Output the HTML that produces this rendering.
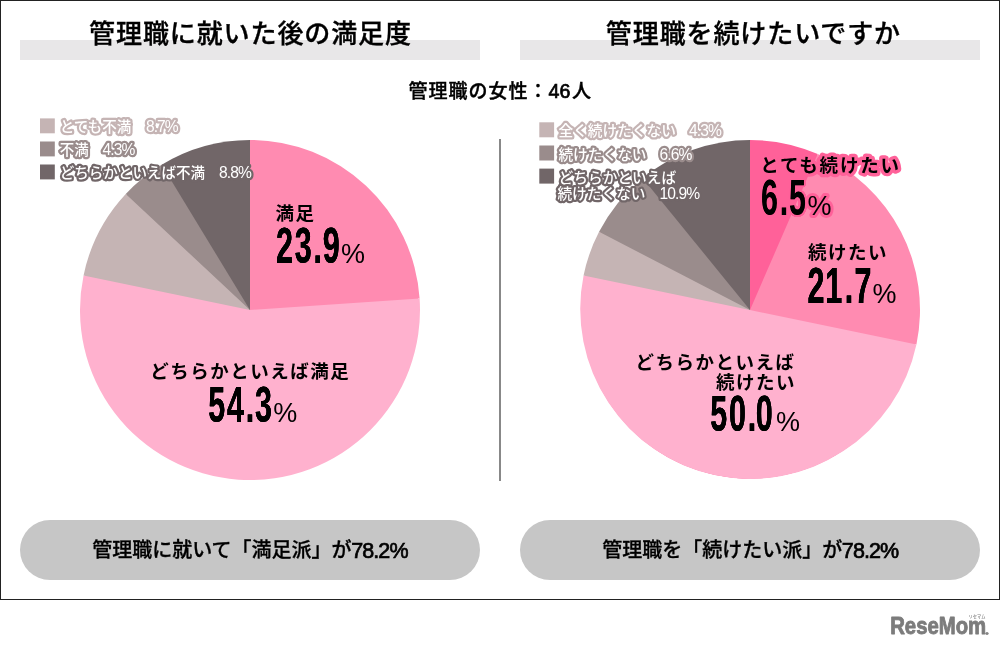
<!DOCTYPE html>
<html lang="ja">
<head>
<meta charset="utf-8">
<title>管理職に就いた後の満足度・管理職を続けたいですか</title>
<style>
html,body{margin:0;padding:0;background:#fff;}
body{width:1001px;height:648px;overflow:hidden;}
svg{display:block;}
text{font-family:"Liberation Sans","Noto Sans CJK JP",sans-serif;fill:#000;}
.title{font-size:26px;font-weight:500;letter-spacing:0.9px;text-anchor:middle;stroke:#000;stroke-width:0.35px;}
.sub{font-size:19px;font-weight:500;letter-spacing:1.0px;text-anchor:middle;stroke:#000;stroke-width:0.4px;}
.sub .d{font-size:19.6px;letter-spacing:0.3px;font-weight:400;stroke-width:0.7px;}
.lg{font-size:14.55px;font-weight:500;fill:#fff;stroke-width:4.5px;stroke-linejoin:round;paint-order:stroke fill;}
.lg tspan{font-weight:400;font-size:15.6px;letter-spacing:-0.9px;}
.lg.r{font-size:14.7px;}
.lg.r tspan{font-size:15.6px;}
.lab{font-size:18.5px;font-weight:700;letter-spacing:1.5px;}
.num{font-family:"Liberation Sans",sans-serif;font-weight:700;font-size:50px;letter-spacing:2.9px;filter:url(#fat);}
.pct{font-size:27px;font-weight:400;}
.pill{font-size:20px;font-weight:500;letter-spacing:0px;text-anchor:middle;stroke:#000;stroke-width:0.3px;}
.pill tspan{font-size:21.5px;letter-spacing:-0.9px;font-weight:400;stroke-width:0.7px;}
</style>
</head>
<body>
<svg width="1001" height="648" viewBox="0 0 1001 648">
<defs>
<filter id="fat" x="-5%" y="-5%" width="110%" height="110%"><feOffset in="SourceGraphic" dx="0.5" result="a"/><feOffset in="SourceGraphic" dx="-0.5" result="b"/><feMerge><feMergeNode in="a"/><feMergeNode in="b"/><feMergeNode in="SourceGraphic"/></feMerge></filter>
<filter id="fatol" x="-15%" y="-25%" width="130%" height="150%">
<feGaussianBlur in="SourceAlpha" stdDeviation="3 1.8" result="bl"/>
<feComponentTransfer in="bl" result="th"><feFuncA type="linear" slope="30" intercept="-1"/></feComponentTransfer>
<feFlood flood-color="#ff6199" result="fl"/>
<feComposite in="fl" in2="th" operator="in" result="ol"/>
<feOffset in="SourceGraphic" dx="0.5" result="a"/><feOffset in="SourceGraphic" dx="-0.5" result="b"/>
<feMerge><feMergeNode in="ol"/><feMergeNode in="a"/><feMergeNode in="b"/><feMergeNode in="SourceGraphic"/></feMerge></filter>
</defs>
<rect x="0" y="0" width="1001" height="648" fill="#fff"/>
<rect x="0.5" y="0.5" width="999" height="599" fill="#fff" stroke="#222" stroke-width="1"/>
<rect x="20" y="40" width="460" height="20" fill="#e8e7e8"/>
<rect x="520" y="40" width="460" height="20" fill="#e8e7e8"/>
<text class="title" x="250.5" y="42.5">管理職に就いた後の満足度</text>
<text class="title" x="753.4" y="42.5">管理職を続けたいですか</text>
<text class="sub" x="500.2" y="98">管理職の女性：<tspan class="d">46</tspan><tspan dx="1.2">人</tspan></text>
<rect x="499" y="139" width="2" height="342" fill="#888"/>

<g id="pie-left">
<path d="M250 310L250.00 140.00A170 170 0 0 1 419.60 298.40L418.11 298.50A168.5 168.5 0 1 1 250 141.5Z" fill="#ff8bb1"/>
<path d="M250 310L419.60 298.40A170 170 0 1 1 83.56 275.41L85.02 275.72A168.5 168.5 0 0 1 250 141.5Z" fill="#ffb1ce"/>
<path d="M250 310L83.56 275.41A170 170 0 0 1 125.76 193.97L126.85 194.99A168.5 168.5 0 0 1 250 141.5Z" fill="#c5b4b4"/>
<path d="M250 310L125.76 193.97A170 170 0 0 1 161.67 164.75L162.45 166.03A168.5 168.5 0 0 1 250 141.5Z" fill="#9a8c8c"/>
<path d="M250 310L161.67 164.75A170 170 0 0 1 250.00 140.00Z" fill="#716668"/>
</g>
<g id="pie-right">
<path d="M750 310L750.00 140.00A170 170 0 0 1 817.73 154.07L817.13 155.45A168.5 168.5 0 1 1 750 141.5Z" fill="#ff6199"/>
<path d="M750 310L817.73 154.07A170 170 0 0 1 916.44 344.59L914.98 344.28A168.5 168.5 0 1 1 750 141.5Z" fill="#ff8bb1"/>
<path d="M750 310L916.44 344.59A170 170 0 0 1 583.56 275.41L585.02 275.72A168.5 168.5 0 0 1 750 141.5Z" fill="#ffb1ce"/>
<path d="M750 310L583.56 275.41A170 170 0 0 1 599.06 231.79L600.39 232.48A168.5 168.5 0 0 1 750 141.5Z" fill="#c5b4b4"/>
<path d="M750 310L599.06 231.79A170 170 0 0 1 642.72 178.13L643.66 179.29A168.5 168.5 0 0 1 750 141.5Z" fill="#9a8c8c"/>
<path d="M750 310L642.72 178.13A170 170 0 0 1 750.00 140.00Z" fill="#716668"/>
</g>

<g id="legend-left">
<rect x="40" y="118.4" width="14.8" height="14.9" fill="#c5b4b4"/>
<rect x="40" y="141.5" width="14.8" height="14.9" fill="#9a8c8c"/>
<rect x="40" y="164.5" width="14.8" height="14.9" fill="#716668"/>
<text class="lg" x="59.7" y="132.4" stroke="#c5b4b4">とても不満 <tspan dx="10.55">8.7%</tspan></text>
<text class="lg" x="59.7" y="155.4" stroke="#9a8c8c">不満 <tspan dx="9.75">4.3%</tspan></text>
<text class="lg" x="59.7" y="178.4" stroke="#716668">どちらかといえば不満 <tspan dx="9.75">8.8%</tspan></text>
</g>
<g id="legend-right">
<rect x="539.3" y="122.3" width="14.8" height="15" fill="#c5b4b4"/>
<rect x="539.3" y="145.5" width="14.8" height="15" fill="#9a8c8c"/>
<rect x="539.3" y="168.6" width="14.8" height="15" fill="#716668"/>
<text class="lg r" x="558.4" y="136.4" stroke="#c5b4b4">全く続けたくない <tspan dx="8.95">4.3%</tspan></text>
<text class="lg r" x="558.4" y="159.6" stroke="#9a8c8c">続けたくない <tspan dx="8.95">6.6%</tspan></text>
<text class="lg r" x="558.6" y="182.6" stroke="#716668">どちらかといえば</text>
<text class="lg r" x="557.4" y="199" stroke="#716668">続けたくない <tspan dx="9.95">10.9%</tspan></text>
</g>

<g id="labels-left">
<text class="lab" x="275.4" y="219.7">満足</text>
<text class="num" transform="translate(276,263) scale(0.61,1)">23.<tspan dx="-1.5">9</tspan></text>
<text class="pct" x="341" y="263">%</text>
<text class="lab" x="150.2" y="377.6">どちらかといえば満足</text>
<text class="num" transform="translate(208.2,422) scale(0.61,1)">54.<tspan dx="-1.5">3</tspan></text>
<text class="pct" x="273.2" y="422">%</text>
</g>
<g id="labels-right">
<text class="lab" x="760.2" y="171.8" style="letter-spacing:1.8px;stroke:#ff6199;stroke-width:6.8px;stroke-linejoin:round;paint-order:stroke fill;">とても続けたい</text>
<text class="num" style="filter:url(#fatol)" transform="translate(761,215) scale(0.61,1)">6.<tspan dx="-1.5">5</tspan></text>
<text class="pct" x="807.5" y="215" style="stroke:#ff6199;stroke-width:6px;stroke-linejoin:round;paint-order:stroke fill;">%</text>
<text class="lab" x="808" y="259">続けたい</text>
<text class="num" transform="translate(807.5,303) scale(0.61,1)">2<tspan dx="-1.5">1</tspan><tspan dx="1">.</tspan><tspan dx="-0.5">7</tspan></text>
<text class="pct" x="872.4" y="303">%</text>
<text class="lab" x="635.5" y="368.6">どちらかといえば</text>
<text class="lab" x="716" y="389.3">続けたい</text>
<text class="num" transform="translate(710.3,431.3) scale(0.61,1)">50.<tspan dx="-3.5">0</tspan></text>
<text class="pct" x="776" y="431.2">%</text>
</g>

<rect x="20" y="520" width="460" height="60" rx="30" ry="30" fill="#c6c6c6"/>
<rect x="520" y="520" width="460" height="60" rx="30" ry="30" fill="#c6c6c6"/>
<text class="pill" x="249.9" y="557">管理職に就いて「満足派」が<tspan dx="-0.4" dy="0.7">78.2%</tspan></text>
<text class="pill" x="750.3" y="557">管理職を「続けたい派」が<tspan dx="-0.4" dy="0.7">78.2%</tspan></text>

<g id="logo">
<text x="890.2" y="633.7" style="font-family:'Liberation Sans',sans-serif;font-weight:700;font-size:24px;fill:#7c7c7c;stroke:#7c7c7c;stroke-width:0.9px;stroke-linejoin:round;" textLength="96" lengthAdjust="spacingAndGlyphs">ReseMom</text>
<text x="985.6" y="634.8" style="font-family:'Liberation Sans',sans-serif;font-weight:700;font-size:4px;fill:#7c7c7c;stroke:#7c7c7c;stroke-width:0.4px;">®</text>
<text x="968.6" y="618" style="font-size:4.2px;fill:#858585;font-weight:500;">リセマム</text>
</g>
</svg>
</body>
</html>
